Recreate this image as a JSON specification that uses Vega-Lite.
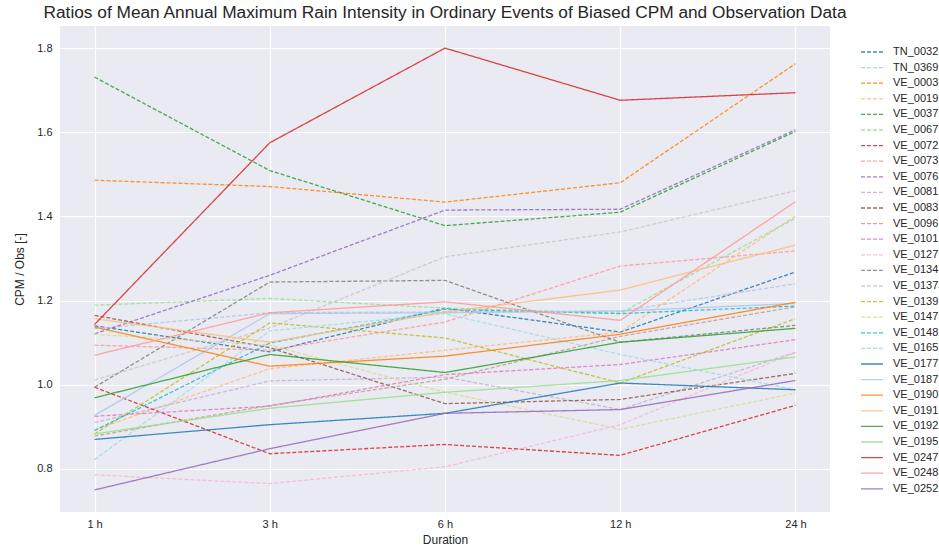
{
  "$schema": "https://vega.github.io/schema/vega-lite/v6.json",
  "width": 770,
  "height": 486,
  "autosize": {"type": "none"},
  "padding": {"left": 60, "top": 26, "right": 109, "bottom": 40},
  "background": "white",
  "title": {
    "text": "Ratios of Mean Annual Maximum Rain Intensity in Ordinary Events of Biased CPM and Observation Data",
    "font": "Liberation Sans",
    "fontSize": 17.3,
    "fontWeight": "normal",
    "color": "#262626",
    "anchor": "middle",
    "offset": 5
  },
  "data": {
    "values": [
      {"station": "TN_0032", "duration": "1 h", "ratio": 1.140}, {"station": "TN_0032", "duration": "3 h", "ratio": 1.078}, {"station": "TN_0032", "duration": "6 h", "ratio": 1.182}, {"station": "TN_0032", "duration": "12 h", "ratio": 1.125}, {"station": "TN_0032", "duration": "24 h", "ratio": 1.268},
      {"station": "TN_0369", "duration": "1 h", "ratio": 1.133}, {"station": "TN_0369", "duration": "3 h", "ratio": 1.171}, {"station": "TN_0369", "duration": "6 h", "ratio": 1.173}, {"station": "TN_0369", "duration": "12 h", "ratio": 1.175}, {"station": "TN_0369", "duration": "24 h", "ratio": 1.240},
      {"station": "VE_0003", "duration": "1 h", "ratio": 1.486}, {"station": "VE_0003", "duration": "3 h", "ratio": 1.471}, {"station": "VE_0003", "duration": "6 h", "ratio": 1.434}, {"station": "VE_0003", "duration": "12 h", "ratio": 1.480}, {"station": "VE_0003", "duration": "24 h", "ratio": 1.763},
      {"station": "VE_0019", "duration": "1 h", "ratio": 0.893}, {"station": "VE_0019", "duration": "3 h", "ratio": 1.038}, {"station": "VE_0019", "duration": "6 h", "ratio": 1.082}, {"station": "VE_0019", "duration": "12 h", "ratio": 1.125}, {"station": "VE_0019", "duration": "24 h", "ratio": 1.401},
      {"station": "VE_0037", "duration": "1 h", "ratio": 1.731}, {"station": "VE_0037", "duration": "3 h", "ratio": 1.509}, {"station": "VE_0037", "duration": "6 h", "ratio": 1.378}, {"station": "VE_0037", "duration": "12 h", "ratio": 1.410}, {"station": "VE_0037", "duration": "24 h", "ratio": 1.602},
      {"station": "VE_0067", "duration": "1 h", "ratio": 1.189}, {"station": "VE_0067", "duration": "3 h", "ratio": 1.205}, {"station": "VE_0067", "duration": "6 h", "ratio": 1.182}, {"station": "VE_0067", "duration": "12 h", "ratio": 1.170}, {"station": "VE_0067", "duration": "24 h", "ratio": 1.396},
      {"station": "VE_0072", "duration": "1 h", "ratio": 0.994}, {"station": "VE_0072", "duration": "3 h", "ratio": 0.836}, {"station": "VE_0072", "duration": "6 h", "ratio": 0.858}, {"station": "VE_0072", "duration": "12 h", "ratio": 0.832}, {"station": "VE_0072", "duration": "24 h", "ratio": 0.951},
      {"station": "VE_0073", "duration": "1 h", "ratio": 1.094}, {"station": "VE_0073", "duration": "3 h", "ratio": 1.082}, {"station": "VE_0073", "duration": "6 h", "ratio": 1.149}, {"station": "VE_0073", "duration": "12 h", "ratio": 1.282}, {"station": "VE_0073", "duration": "24 h", "ratio": 1.318},
      {"station": "VE_0076", "duration": "1 h", "ratio": 1.121}, {"station": "VE_0076", "duration": "3 h", "ratio": 1.260}, {"station": "VE_0076", "duration": "6 h", "ratio": 1.415}, {"station": "VE_0076", "duration": "12 h", "ratio": 1.417}, {"station": "VE_0076", "duration": "24 h", "ratio": 1.606},
      {"station": "VE_0081", "duration": "1 h", "ratio": 0.910}, {"station": "VE_0081", "duration": "3 h", "ratio": 1.009}, {"station": "VE_0081", "duration": "6 h", "ratio": 1.018}, {"station": "VE_0081", "duration": "12 h", "ratio": 0.941}, {"station": "VE_0081", "duration": "24 h", "ratio": 1.077},
      {"station": "VE_0083", "duration": "1 h", "ratio": 1.165}, {"station": "VE_0083", "duration": "3 h", "ratio": 1.088}, {"station": "VE_0083", "duration": "6 h", "ratio": 0.955}, {"station": "VE_0083", "duration": "12 h", "ratio": 0.965}, {"station": "VE_0083", "duration": "24 h", "ratio": 1.027},
      {"station": "VE_0096", "duration": "1 h", "ratio": 0.878}, {"station": "VE_0096", "duration": "3 h", "ratio": 0.951}, {"station": "VE_0096", "duration": "6 h", "ratio": 1.013}, {"station": "VE_0096", "duration": "12 h", "ratio": 1.115}, {"station": "VE_0096", "duration": "24 h", "ratio": 1.185},
      {"station": "VE_0101", "duration": "1 h", "ratio": 0.925}, {"station": "VE_0101", "duration": "3 h", "ratio": 0.949}, {"station": "VE_0101", "duration": "6 h", "ratio": 1.024}, {"station": "VE_0101", "duration": "12 h", "ratio": 1.048}, {"station": "VE_0101", "duration": "24 h", "ratio": 1.107},
      {"station": "VE_0127", "duration": "1 h", "ratio": 0.786}, {"station": "VE_0127", "duration": "3 h", "ratio": 0.765}, {"station": "VE_0127", "duration": "6 h", "ratio": 0.805}, {"station": "VE_0127", "duration": "12 h", "ratio": 0.905}, {"station": "VE_0127", "duration": "24 h", "ratio": 1.077},
      {"station": "VE_0134", "duration": "1 h", "ratio": 0.994}, {"station": "VE_0134", "duration": "3 h", "ratio": 1.244}, {"station": "VE_0134", "duration": "6 h", "ratio": 1.248}, {"station": "VE_0134", "duration": "12 h", "ratio": 1.101}, {"station": "VE_0134", "duration": "24 h", "ratio": 1.141},
      {"station": "VE_0137", "duration": "1 h", "ratio": 1.011}, {"station": "VE_0137", "duration": "3 h", "ratio": 1.135}, {"station": "VE_0137", "duration": "6 h", "ratio": 1.304}, {"station": "VE_0137", "duration": "12 h", "ratio": 1.363}, {"station": "VE_0137", "duration": "24 h", "ratio": 1.461},
      {"station": "VE_0139", "duration": "1 h", "ratio": 0.883}, {"station": "VE_0139", "duration": "3 h", "ratio": 1.147}, {"station": "VE_0139", "duration": "6 h", "ratio": 1.111}, {"station": "VE_0139", "duration": "12 h", "ratio": 1.004}, {"station": "VE_0139", "duration": "24 h", "ratio": 1.157},
      {"station": "VE_0147", "duration": "1 h", "ratio": 1.120}, {"station": "VE_0147", "duration": "3 h", "ratio": 1.094}, {"station": "VE_0147", "duration": "6 h", "ratio": 0.982}, {"station": "VE_0147", "duration": "12 h", "ratio": 0.894}, {"station": "VE_0147", "duration": "24 h", "ratio": 0.980},
      {"station": "VE_0148", "duration": "1 h", "ratio": 0.891}, {"station": "VE_0148", "duration": "3 h", "ratio": 1.099}, {"station": "VE_0148", "duration": "6 h", "ratio": 1.179}, {"station": "VE_0148", "duration": "12 h", "ratio": 1.169}, {"station": "VE_0148", "duration": "24 h", "ratio": 1.187},
      {"station": "VE_0165", "duration": "1 h", "ratio": 0.822}, {"station": "VE_0165", "duration": "3 h", "ratio": 1.128}, {"station": "VE_0165", "duration": "6 h", "ratio": 1.169}, {"station": "VE_0165", "duration": "12 h", "ratio": 1.072}, {"station": "VE_0165", "duration": "24 h", "ratio": 0.988},
      {"station": "VE_0177", "duration": "1 h", "ratio": 0.870}, {"station": "VE_0177", "duration": "3 h", "ratio": 0.905}, {"station": "VE_0177", "duration": "6 h", "ratio": 0.932}, {"station": "VE_0177", "duration": "12 h", "ratio": 1.004}, {"station": "VE_0177", "duration": "24 h", "ratio": 0.988},
      {"station": "VE_0187", "duration": "1 h", "ratio": 0.927}, {"station": "VE_0187", "duration": "3 h", "ratio": 1.169}, {"station": "VE_0187", "duration": "6 h", "ratio": 1.171}, {"station": "VE_0187", "duration": "12 h", "ratio": 1.175}, {"station": "VE_0187", "duration": "24 h", "ratio": 1.193},
      {"station": "VE_0190", "duration": "1 h", "ratio": 1.137}, {"station": "VE_0190", "duration": "3 h", "ratio": 1.044}, {"station": "VE_0190", "duration": "6 h", "ratio": 1.068}, {"station": "VE_0190", "duration": "12 h", "ratio": 1.120}, {"station": "VE_0190", "duration": "24 h", "ratio": 1.196},
      {"station": "VE_0191", "duration": "1 h", "ratio": 1.157}, {"station": "VE_0191", "duration": "3 h", "ratio": 1.101}, {"station": "VE_0191", "duration": "6 h", "ratio": 1.173}, {"station": "VE_0191", "duration": "12 h", "ratio": 1.225}, {"station": "VE_0191", "duration": "24 h", "ratio": 1.332},
      {"station": "VE_0192", "duration": "1 h", "ratio": 0.969}, {"station": "VE_0192", "duration": "3 h", "ratio": 1.072}, {"station": "VE_0192", "duration": "6 h", "ratio": 1.029}, {"station": "VE_0192", "duration": "12 h", "ratio": 1.101}, {"station": "VE_0192", "duration": "24 h", "ratio": 1.134},
      {"station": "VE_0195", "duration": "1 h", "ratio": 0.883}, {"station": "VE_0195", "duration": "3 h", "ratio": 0.944}, {"station": "VE_0195", "duration": "6 h", "ratio": 0.982}, {"station": "VE_0195", "duration": "12 h", "ratio": 1.010}, {"station": "VE_0195", "duration": "24 h", "ratio": 1.066},
      {"station": "VE_0247", "duration": "1 h", "ratio": 1.143}, {"station": "VE_0247", "duration": "3 h", "ratio": 1.575}, {"station": "VE_0247", "duration": "6 h", "ratio": 1.800}, {"station": "VE_0247", "duration": "12 h", "ratio": 1.676}, {"station": "VE_0247", "duration": "24 h", "ratio": 1.694},
      {"station": "VE_0248", "duration": "1 h", "ratio": 1.070}, {"station": "VE_0248", "duration": "3 h", "ratio": 1.171}, {"station": "VE_0248", "duration": "6 h", "ratio": 1.197}, {"station": "VE_0248", "duration": "12 h", "ratio": 1.153}, {"station": "VE_0248", "duration": "24 h", "ratio": 1.435},
      {"station": "VE_0252", "duration": "1 h", "ratio": 0.750}, {"station": "VE_0252", "duration": "3 h", "ratio": 0.848}, {"station": "VE_0252", "duration": "6 h", "ratio": 0.932}, {"station": "VE_0252", "duration": "12 h", "ratio": 0.941}, {"station": "VE_0252", "duration": "24 h", "ratio": 1.010}
    ]
  },
  "mark": {"type": "line", "strokeWidth": 1.3, "opacity": 0.85},
  "encoding": {
    "x": {
      "field": "duration",
      "type": "ordinal",
      "sort": ["1 h", "3 h", "6 h", "12 h", "24 h"],
      "scale": {"type": "point", "padding": 0.197},
      "axis": {"title": "Duration", "labelAngle": 0, "labelPadding": 6, "titlePadding": 5}
    },
    "y": {
      "field": "ratio",
      "type": "quantitative",
      "scale": {"domain": [0.6975, 1.8525], "nice": false, "zero": false},
      "axis": {"title": "CPM / Obs [-]", "values": [0.8, 1.0, 1.2, 1.4, 1.6, 1.8], "format": ".1f", "labelPadding": 8, "titlePadding": 10}
    },
    "color": {
      "field": "station",
      "type": "nominal",
      "scale": {
        "domain": ["TN_0032", "TN_0369", "VE_0003", "VE_0019", "VE_0037", "VE_0067", "VE_0072", "VE_0073", "VE_0076", "VE_0081", "VE_0083", "VE_0096", "VE_0101", "VE_0127", "VE_0134", "VE_0137", "VE_0139", "VE_0147", "VE_0148", "VE_0165", "VE_0177", "VE_0187", "VE_0190", "VE_0191", "VE_0192", "VE_0195", "VE_0247", "VE_0248", "VE_0252"],
        "range": ["#1f77b4", "#aec7e8", "#ff7f0e", "#ffbb78", "#2ca02c", "#98df8a", "#d62728", "#ff9896", "#9467bd", "#c5b0d5", "#8c564b", "#c49c94", "#e377c2", "#f7b6d2", "#7f7f7f", "#c7c7c7", "#bcbd22", "#dbdb8d", "#17becf", "#9edae5", "#1f77b4", "#aec7e8", "#ff7f0e", "#ffbb78", "#2ca02c", "#98df8a", "#d62728", "#ff9896", "#9467bd"]
      },
      "legend": {"title": null}
    },
    "strokeDash": {
      "field": "station",
      "type": "nominal",
      "scale": {
        "domain": ["TN_0032", "TN_0369", "VE_0003", "VE_0019", "VE_0037", "VE_0067", "VE_0072", "VE_0073", "VE_0076", "VE_0081", "VE_0083", "VE_0096", "VE_0101", "VE_0127", "VE_0134", "VE_0137", "VE_0139", "VE_0147", "VE_0148", "VE_0165", "VE_0177", "VE_0187", "VE_0190", "VE_0191", "VE_0192", "VE_0195", "VE_0247", "VE_0248", "VE_0252"],
        "range": [[4, 2], [4, 2], [4, 2], [4, 2], [4, 2], [4, 2], [4, 2], [4, 2], [4, 2], [4, 2], [4, 2], [4, 2], [4, 2], [4, 2], [4, 2], [4, 2], [4, 2], [4, 2], [4, 2], [4, 2], [1, 0], [1, 0], [1, 0], [1, 0], [1, 0], [1, 0], [1, 0], [1, 0], [1, 0]]
      },
      "legend": {"title": null}
    }
  },
  "config": {
    "font": "Liberation Sans",
    "view": {"fill": "#eaeaf2", "stroke": null},
    "axis": {
      "domain": false,
      "ticks": false,
      "grid": true,
      "gridColor": "#ffffff",
      "gridWidth": 1.2,
      "labelFont": "Liberation Sans",
      "labelFontSize": 11,
      "labelColor": "#262626",
      "titleFont": "Liberation Sans",
      "titleFontSize": 12,
      "titleFontWeight": "normal",
      "titleColor": "#262626"
    },
    "legend": {
      "orient": "none",
      "legendX": 805.5,
      "legendY": 19.5,
      "symbolType": "M-2,0H2",
      "symbolSize": 121,
      "symbolStrokeWidth": 1.3,
      "symbolOpacity": 0.85,
      "labelFont": "Liberation Sans",
      "labelFontSize": 11,
      "labelColor": "#262626",
      "labelOffset": 14.5,
      "rowPadding": 3.6,
      "padding": 0
    }
  }
}
